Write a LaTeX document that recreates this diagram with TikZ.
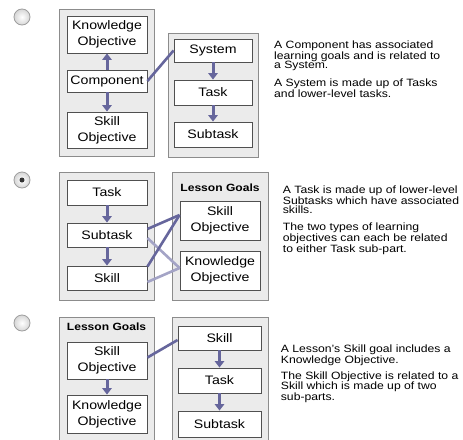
\documentclass[tikz,border=0pt]{standalone}
\usepackage{fontspec}
\setmainfont{Liberation Sans}[FakeStretch=1.15]
\usetikzlibrary{arrows.meta}
\definecolor{panelfill}{HTML}{EBEBEB}
\definecolor{paneldraw}{HTML}{8C8C8C}
\definecolor{boxdraw}{HTML}{505050}
\definecolor{conn}{HTML}{66669C}
\definecolor{connlight}{HTML}{A4A4C6}
\newcommand{\boxfont}{\fontsize{12.3}{16}\selectfont}
\newcommand{\descfont}{\fontsize{10.6}{9.7}\selectfont}
\begin{document}
\begin{tikzpicture}[x=1pt,y=-1pt,
  panel/.style={fill=panelfill,draw=paneldraw,line width=1pt},
  box/.style={draw=boxdraw,fill=white,line width=0.9pt,inner sep=0pt,align=center,font=\boxfont},
  arr/.style={draw=conn,line width=3pt,-{Triangle[width=9.5pt,length=6.5pt]}},
  link/.style={draw=conn,line width=2.6pt},
  linklight/.style={draw=connlight,line width=2.6pt},
  desc/.style={anchor=base west,align=left,inner sep=0pt,font=\descfont},
  title/.style={font=\fontsize{10.5}{12}\selectfont\bfseries,inner sep=0pt},
  radio/.style={draw=black!38,line width=0.8pt,inner color=white,outer color=black!16}]
\useasboundingbox[fill=white] (0,0) rectangle (463,439);
% ---------- radio buttons
\shadedraw[radio] (22,17) circle (8pt);
\shadedraw[radio] (22,180) circle (8pt);
\fill[black!80] (22,180) circle (2.5pt);
\shadedraw[radio] (22,323) circle (8pt);
% ---------- section 1
\path[panel] (59,9) rectangle (154,156);
\path[panel] (168,33) rectangle (258,157);
\node[box,minimum width=80pt,minimum height=37pt] (ko1) at (107,34.5) {Knowledge\\Objective};
\node[box,minimum width=80pt,minimum height=22pt] (comp1) at (107,81) {Component};
\node[box,minimum width=80pt,minimum height=36pt] (so1) at (107,130) {Skill\\Objective};
\node[box,minimum width=78pt,minimum height=23pt] (sys1) at (213,50.5) {System};
\node[box,minimum width=78pt,minimum height=25pt] (task1) at (213,92.5) {Task};
\node[box,minimum width=78pt,minimum height=25pt] (sub1) at (213,134.5) {Subtask};
\draw[arr] (comp1.north) -- (ko1.south);
\draw[arr] (comp1.south) -- (so1.north);
\draw[arr] (sys1.south) -- (task1.north);
\draw[arr] (task1.south) -- (sub1.north);
\draw[link] (comp1.east) -- (sys1.west);
\node[desc] (d1a) at (274,68.8) {A Component has associated\\learning goals and is related to\\a System.};
\node[desc] (d1b) at (274,97.4) {A System is made up of Tasks\\and lower-level tasks.};
% ---------- section 2
\path[panel] (59,172) rectangle (154,300);
\path[panel] (172,172) rectangle (268,300);
\node[title] (lg2) at (220,187.7) {Lesson Goals};
\node[box,minimum width=80pt,minimum height=25pt] (task2) at (107,192.5) {Task};
\node[box,minimum width=80pt,minimum height=24pt] (sub2) at (107,235) {Subtask};
\node[box,minimum width=80pt,minimum height=24pt] (skill2) at (107,278) {Skill};
\node[box,minimum width=80pt,minimum height=39pt] (so2) at (220,220.5) {Skill\\Objective};
\node[box,minimum width=80pt,minimum height=39pt] (ko2) at (220,270.5) {Knowledge\\Objective};
\draw[arr] (task2.south) -- (sub2.north);
\draw[arr] (sub2.south) -- (skill2.north);
\draw[linklight] ([yshift=-3pt]sub2.east) -- ([yshift=2.5pt]ko2.west);
\draw[linklight] ([yshift=-4pt]skill2.east) -- ([yshift=2.5pt]ko2.west);
\draw[link] ([yshift=6pt]sub2.east) -- ([yshift=5.5pt]so2.west);
\draw[link] ([yshift=-1pt]skill2.north east) -- ([yshift=5.5pt]so2.west);
\node[desc] (d2a) at (282.7,213.8) {A Task is made up of lower-level\\Subtasks which have associated\\skills.};
\node[desc] (d2b) at (282.7,252.4) {The two types of learning\\objectives can each be related\\to either Task sub-part.};
% ---------- section 3
\path[panel] (59,317) rectangle (154,445);
\path[panel] (172,317) rectangle (268,445);
\node[title] (lg3) at (106.5,326.7) {Lesson Goals};
\node[box,minimum width=80pt,minimum height=37pt] (so3) at (107,360.5) {Skill\\Objective};
\node[box,minimum width=80pt,minimum height=38pt] (ko3) at (107,414) {Knowledge\\Objective};
\node[box,minimum width=83pt,minimum height=24pt] (skill3) at (219.5,338) {Skill};
\node[box,minimum width=83pt,minimum height=25pt] (task3) at (219.5,380.5) {Task};
\node[box,minimum width=83pt,minimum height=26pt] (sub3) at (219.5,424) {Subtask};
\draw[arr] (so3.south) -- (ko3.north);
\draw[arr] (skill3.south) -- (task3.north);
\draw[arr] (task3.south) -- (sub3.north);
\draw[link] ([yshift=3pt]so3.east) -- ([yshift=-2pt]skill3.west);
\node[desc] (d3a) at (280.7,363.4) {A Lesson's Skill goal includes a\\Knowledge Objective.};
\node[desc] (d3b) at (280.7,400.8) {The Skill Objective is related to a\\Skill which is made up of two\\sub-parts.};
\end{tikzpicture}
\end{document}
